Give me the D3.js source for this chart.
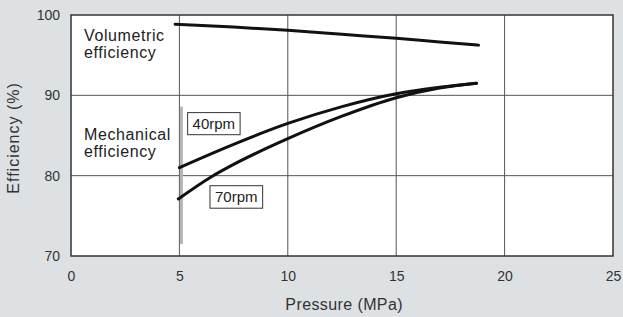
<!DOCTYPE html>
<html>
<head>
<meta charset="utf-8">
<script src="https://cdn.jsdelivr.net/npm/d3@7"></script>
<style>
  body { margin: 0; background: #dde1e4; }
  svg { display: block; font-family: "Liberation Sans", Arial, sans-serif; }
</style>
</head>
<body>
<svg id="chart"></svg>
<script>
// pressure (MPa) vs efficiency (%)
const volumetric = [[4.8, 98.85], [7.5, 98.5], [10, 98.1], [12.5, 97.6], [15, 97.1], [17, 96.65], [18.8, 96.25]];
const mech40 = [[5, 81.0], [7.5, 83.9], [10, 86.5], [12.5, 88.6], [15, 90.2], [17, 91.0], [18.7, 91.5]];
const mech70 = [[4.95, 77.1], [6.5, 79.9], [7.5, 81.4], [10, 84.6], [12.5, 87.4], [15, 89.7], [17, 90.9], [18.7, 91.5]];
const xTicks = [0, 5, 10, 15, 20, 25];
const yTicks = [70, 80, 90, 100];

const svgWidth = 623;
const svgHeight = 317;
const margin = { top: 15, right: 10, bottom: 61, left: 71 };
const width = svgWidth - margin.left - margin.right;
const height = svgHeight - margin.top - margin.bottom;

const svg = d3.select("#chart")
    .attr("width", svgWidth)
    .attr("height", svgHeight);

const g = svg.append("g")
    .attr("transform", `translate(${margin.left},${margin.top})`);

const x = d3.scaleLinear().domain([0, 25]).range([0, width]);
const y = d3.scaleLinear().domain([70, 100]).range([height, 0]);

// plot area
g.append("rect")
    .attr("width", width)
    .attr("height", height)
    .attr("fill", "#ffffff");

// grid
g.selectAll(".vgrid")
    .data(xTicks.slice(1, -1))
    .enter()
    .append("line")
    .attr("x1", d => x(d)).attr("x2", d => x(d))
    .attr("y1", 0).attr("y2", height)
    .attr("stroke", "#555")
    .attr("stroke-width", 1);

g.selectAll(".hgrid")
    .data(yTicks.slice(1, -1))
    .enter()
    .append("line")
    .attr("x1", 0).attr("x2", width)
    .attr("y1", d => y(d)).attr("y2", d => y(d))
    .attr("stroke", "#555")
    .attr("stroke-width", 1);

// scan artefact along the 5 MPa line
g.append("line")
    .attr("x1", x(5) + 2).attr("x2", x(5) + 2)
    .attr("y1", y(88.6)).attr("y2", y(71.5))
    .attr("stroke", "#b5b5b5")
    .attr("stroke-width", 3);

g.append("rect")
    .attr("width", width)
    .attr("height", height)
    .attr("fill", "none")
    .attr("stroke", "#333")
    .attr("stroke-width", 1.5);

// axes (labels only)
const xAxis = g.append("g")
    .attr("transform", `translate(0,${height})`)
    .call(d3.axisBottom(x).tickValues(xTicks).tickSize(0).tickPadding(15));
const yAxis = g.append("g")
    .call(d3.axisLeft(y).tickValues(yTicks).tickSize(0).tickPadding(11));
[xAxis, yAxis].forEach(a => {
    a.select(".domain").remove();
    a.selectAll("text")
        .attr("font-size", 14)
        .attr("font-family", "Liberation Sans, Arial, sans-serif")
        .attr("fill", "#333");
});

// curves
const line = d3.line()
    .x(d => x(d[0]))
    .y(d => y(d[1]))
    .curve(d3.curveMonotoneX);

[volumetric, mech40, mech70].forEach(s => {
    g.append("path")
        .datum(s)
        .attr("d", line)
        .attr("fill", "none")
        .attr("stroke", "#111")
        .attr("stroke-width", 3)
        .attr("stroke-linecap", "round");
});

// curve labels
const notes = [
    { text: "Volumetric", x: 0.6, y: 96.8 },
    { text: "efficiency", x: 0.6, y: 94.6 },
    { text: "Mechanical", x: 0.6, y: 84.45 },
    { text: "efficiency", x: 0.6, y: 82.35 }
];
g.selectAll(".note")
    .data(notes)
    .enter()
    .append("text")
    .attr("x", d => x(d.x))
    .attr("y", d => y(d.y))
    .attr("font-size", 16)
    .attr("letter-spacing", 0.6)
    .attr("fill", "#222")
    .text(d => d.text);

const boxes = [
    { text: "40rpm", x0: 5.38, x1: 7.8, y0: 87.85, y1: 85.1 },
    { text: "70rpm", x0: 6.41, x1: 8.84, y0: 78.75, y1: 75.95 }
];
const bg = g.selectAll(".box")
    .data(boxes)
    .enter()
    .append("g");
bg.append("rect")
    .attr("x", d => x(d.x0))
    .attr("y", d => y(d.y0))
    .attr("width", d => x(d.x1) - x(d.x0))
    .attr("height", d => y(d.y1) - y(d.y0))
    .attr("fill", "#fff")
    .attr("stroke", "#333")
    .attr("stroke-width", 1);
bg.append("text")
    .attr("x", d => (x(d.x0) + x(d.x1)) / 2)
    .attr("y", d => (y(d.y0) + y(d.y1)) / 2 + 5.5)
    .attr("text-anchor", "middle")
    .attr("font-size", 15)
    .attr("fill", "#222")
    .text(d => d.text);

// axis titles
svg.append("text")
    .attr("x", margin.left + x(12.6))
    .attr("y", 310)
    .attr("text-anchor", "middle")
    .attr("font-size", 16)
    .attr("letter-spacing", 0.4)
    .attr("fill", "#333")
    .text("Pressure (MPa)");

svg.append("text")
    .attr("transform", `translate(19,${margin.top + y(84.7)}) rotate(-90)`)
    .attr("text-anchor", "middle")
    .attr("font-size", 16)
    .attr("letter-spacing", 1)
    .attr("fill", "#333")
    .text("Efficiency (%)");
</script>
</body>
</html>
